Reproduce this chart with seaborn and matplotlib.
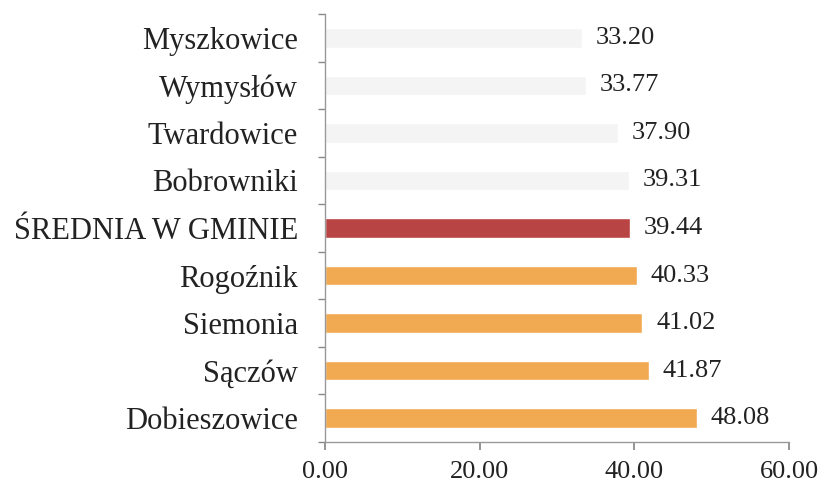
import matplotlib
matplotlib.use("Agg")
import matplotlib.pyplot as plt
import seaborn as sns
import pandas as pd
import numpy as np

categories = ["Myszkowice", "Wymysłów", "Twardowice", "Bobrowniki", "ŚREDNIA W GMINIE",
              "Rogoźnik", "Siemonia", "Sączów", "Dobieszowice"]
values = [33.20, 33.77, 37.90, 39.31, 39.44, 40.33, 41.02, 41.87, 48.08]
bar_colors = ["#f4f4f4", "#f4f4f4", "#f4f4f4", "#f4f4f4", "#b94444",
              "#f2aa52", "#f2aa52", "#f2aa52", "#f2aa52"]
x_ticks = [0, 20, 40, 60]

sns.set_theme(style="white")
plt.rcParams['font.family'] = ['Liberation Serif', 'DejaVu Serif']

df = pd.DataFrame({"cat": categories, "val": values})

fig = plt.figure(figsize=(8.19, 4.84), dpi=100)
ax = fig.add_axes([325/819, 1-442/484, (789-325)/819, (442-14)/484])

sns.barplot(data=df, x="val", y="cat", hue="cat", palette=bar_colors, legend=False,
            orient="h", width=0.41, ax=ax, saturation=1)

for p, v in zip(ax.patches, values):
    y = p.get_y() + p.get_height()/2
    ax.text(p.get_width() + 1.8, y, f"{v:.2f}", va="center", ha="left",
            fontsize=19, color="#222222")

ax.set_xlim(0, 60)
ax.set_ylim(8.5, -0.5)
ax.set_xticks(x_ticks)
ax.set_xticklabels([f"{t:.2f}" for t in x_ticks], fontsize=19, color="#222222")
ax.set_xlabel("")
ax.set_ylabel("")
ax.tick_params(axis="y", length=0, labelsize=22, colors="#222222", pad=19.5)
ax.set_yticks(range(len(categories)))
ax.set_yticklabels(categories)
ax.set_yticks(np.arange(-0.5, 9.0, 1.0), minor=True)
ax.tick_params(axis="y", which="minor", length=5, color="#888888", direction="out", left=True)
ax.tick_params(axis="x", length=6, color="#888888", direction="out", bottom=True, pad=7.5)

for s in ["top", "right"]:
    ax.spines[s].set_visible(False)
for s in ["left", "bottom"]:
    ax.spines[s].set_color("#999999")
    ax.spines[s].set_linewidth(1.0)

fig.savefig("out.png", dpi=100, facecolor="white")
